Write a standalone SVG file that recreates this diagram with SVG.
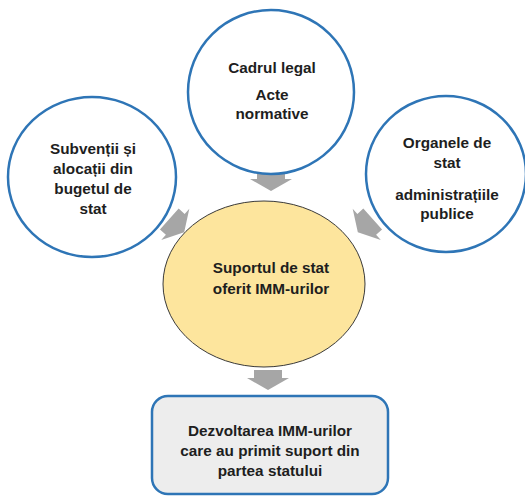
<svg xmlns="http://www.w3.org/2000/svg" width="525" height="500" viewBox="0 0 525 500">
<style>
.bc{fill:#ffffff;stroke:#2e75b6;stroke-width:2.5}
.ctr{fill:#fde59d;stroke:#3a3a3a;stroke-width:1}
.box{fill:#ededed;stroke:#2e75b6;stroke-width:2.5}
text{font-family:"Liberation Sans",Arial,sans-serif;font-weight:bold;font-size:15.3px;fill:#1e1e1e;text-anchor:middle}
.arr{fill:#a6a6a6}
</style>
<defs>
<path id="blk" d="M-14,-9 H14 V-1 H21 L0,11 L-21,-1 H-14 Z"/>
</defs>
<rect width="525" height="500" fill="#ffffff"/>
<g id="connectors">
<use href="#blk" class="arr" transform="translate(271,180)"/>
<use href="#blk" class="arr" transform="translate(176,225) rotate(-48)"/>
<use href="#blk" class="arr" transform="translate(366,225) rotate(48)"/>
<use href="#blk" class="arr" transform="translate(268,379)"/>
</g>
<g id="cadrul">
<ellipse class="bc" cx="271" cy="92" rx="83" ry="82"/>
<text x="272" y="73">Cadrul legal</text>
<text x="272" y="100">Acte</text>
<text x="272" y="119">normative</text>
</g>
<g id="subventii">
<ellipse class="bc" cx="92" cy="177" rx="84" ry="80"/>
<text x="93" y="154">Subvenții și</text>
<text x="93" y="174">alocații din</text>
<text x="93" y="194">bugetul de</text>
<text x="93" y="214">stat</text>
</g>
<g id="organele">
<ellipse class="bc" cx="446" cy="174" rx="80" ry="78"/>
<text x="447" y="148">Organele de</text>
<text x="447" y="168">stat</text>
<text x="447" y="200">administrațiile</text>
<text x="447" y="219">publice</text>
</g>
<g id="suportul">
<ellipse class="ctr" cx="264" cy="284" rx="101" ry="83"/>
<text x="271" y="273">Suportul de stat</text>
<text x="271" y="294">oferit IMM-urilor</text>
</g>
<g id="dezvoltarea">
<rect class="box" x="152" y="396" width="236" height="98" rx="16"/>
<text x="270" y="436">Dezvoltarea IMM-urilor</text>
<text x="270" y="456">care au primit suport din</text>
<text x="270" y="476">partea statului</text>
</g>
</svg>
